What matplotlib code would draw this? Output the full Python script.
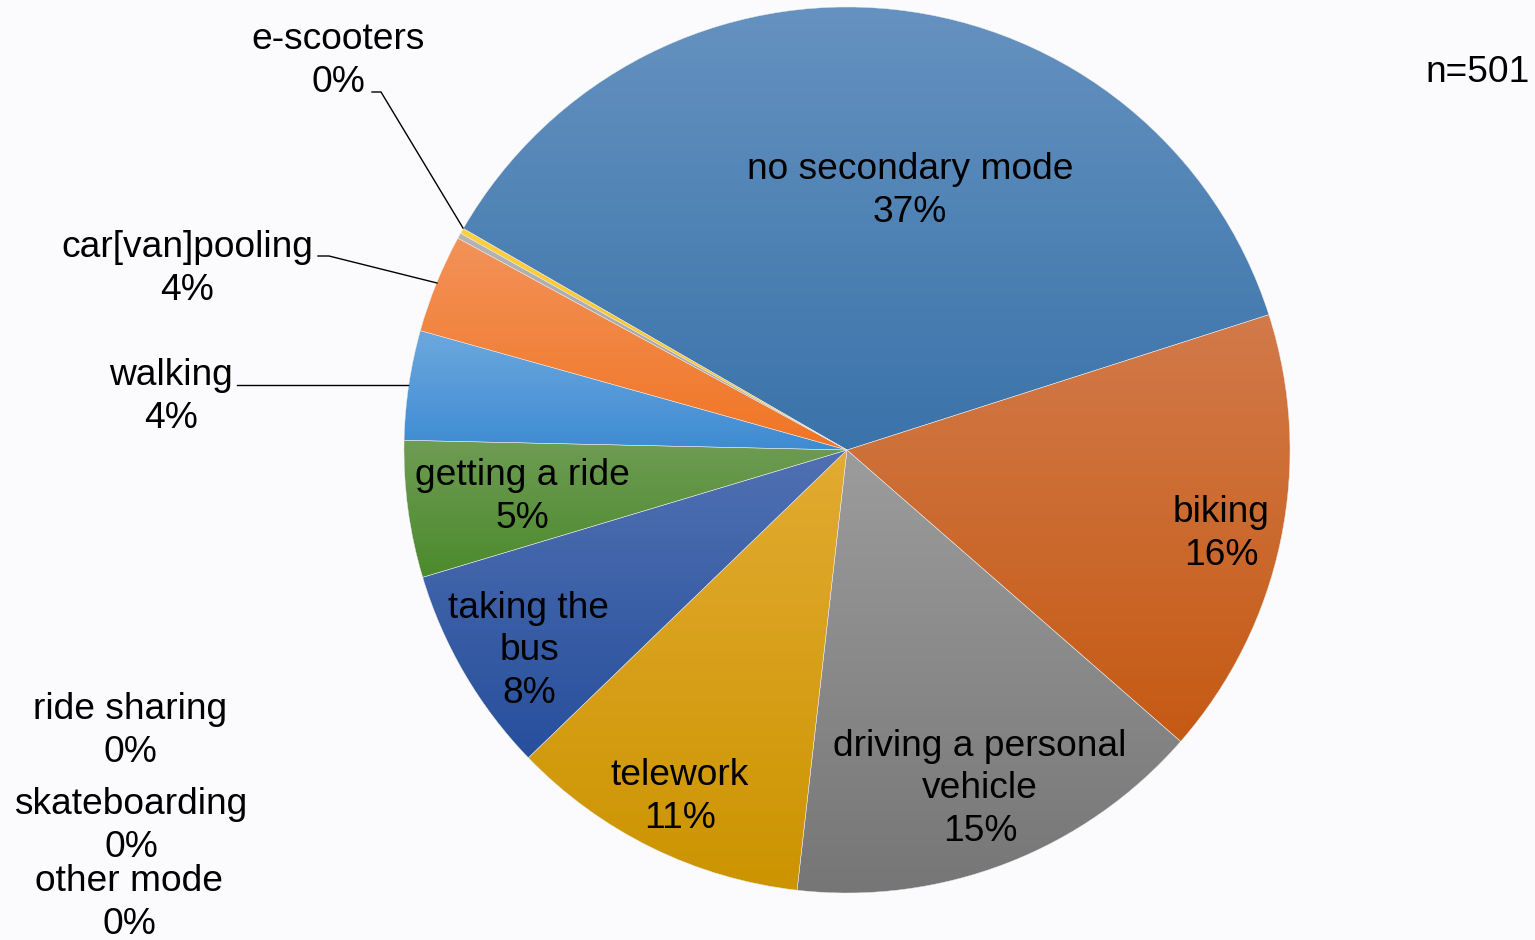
import numpy as np
import matplotlib
matplotlib.use("Agg")
import matplotlib.pyplot as plt
from matplotlib.colors import to_rgb

# data (responses, n=501)
modes = ["no secondary mode", "biking", "driving a personal\nvehicle", "telework",
         "taking the\nbus", "getting a ride", "walking", "car[van]pooling",
         "ride sharing", "skateboarding", "other mode", "e-scooters"]
counts = [184, 82, 77, 55, 38, 25, 20, 18, 1, 0, 0, 1]
n_total = 501

# gradient colours per slice (top, bottom)
top_colors = ["#6592c0", "#d27a4a", "#9c9c9c", "#e2ab32", "#5070b2", "#6e9c54",
              "#6ca8de", "#f39259", "#b4b4b4", "#b4b4b4", "#b4b4b4", "#ffd040"]
bot_colors = ["#3a73aa", "#c55a14", "#767676", "#cc9400", "#274f9c", "#4c8a2c",
              "#3e8bd2", "#f07524", "#a0a0a0", "#a0a0a0", "#a0a0a0", "#f7bc1c"]

# label layout (pixel positions, image coords from top-left)
label_pos = [(910, 191), (1221, 534), (980, 789), (680, 797), (529, 651),
             (522, 497), (171, 397), (187, 269), (130, 731), (131, 826),
             (129, 903), (338, 61)]
leaders = {
    "e-scooters": [(372, 92), (381, 92), (463, 228)],
    "car[van]pooling": [(318, 256), (329, 256), (437, 283)],
    "walking": [(237, 385), (408, 385)],
}

W, H = 1535, 940
plt.rcParams["font.family"] = ["Liberation Sans", "DejaVu Sans"]
FS = 26.7

fig = plt.figure(figsize=(W / 100, H / 100), dpi=100)
fig.patch.set_facecolor("#fbfbfd")
ax = fig.add_axes([0, 0, 1, 1])
ax.set_facecolor("#fbfbfd")

cx, cy, r = 847, H - 450, 443
wedges, _ = ax.pie(counts, startangle=150, counterclock=False,
                   center=(cx, cy), radius=r, frame=True,
                   wedgeprops=dict(linewidth=0.3, edgecolor="#e8e8e8"))

for w, c0, c1, cnt in zip(wedges, top_colors, bot_colors, counts):
    if cnt == 0:
        continue
    ext = w.get_path().get_extents()
    t = np.linspace(0, 1, 256)[:, None]
    grad = (1 - t) * np.array(to_rgb(c1)) + t * np.array(to_rgb(c0))
    grad = grad[:, None, :]
    im = ax.imshow(grad, extent=[ext.x0, ext.x1, ext.y0, ext.y1],
                   origin="lower", aspect="auto", interpolation="bilinear",
                   zorder=1)
    im.set_clip_path(w)
    w.set_facecolor("none")
    w.set_zorder(2)

for name, cnt, (px, py) in zip(modes, counts, label_pos):
    pct = f"{round(cnt / n_total * 100):.0f}%"
    ax.text(px, H - py, f"{name}\n{pct}", ha="center", va="center",
            fontsize=FS, linespacing=1.26, color="black", zorder=5)

for name, pts in leaders.items():
    xs = [p[0] for p in pts]
    ys = [H - p[1] for p in pts]
    ax.plot(xs, ys, color="black", linewidth=1.0, zorder=4)

ax.text(1530, H - 73, f"n={n_total}", ha="right", va="center",
        fontsize=FS, color="black")

ax.set_xlim(0, W)
ax.set_ylim(0, H)
ax.set_aspect("equal")
ax.axis("off")

fig.savefig("out.png", dpi=100, facecolor=fig.get_facecolor())
